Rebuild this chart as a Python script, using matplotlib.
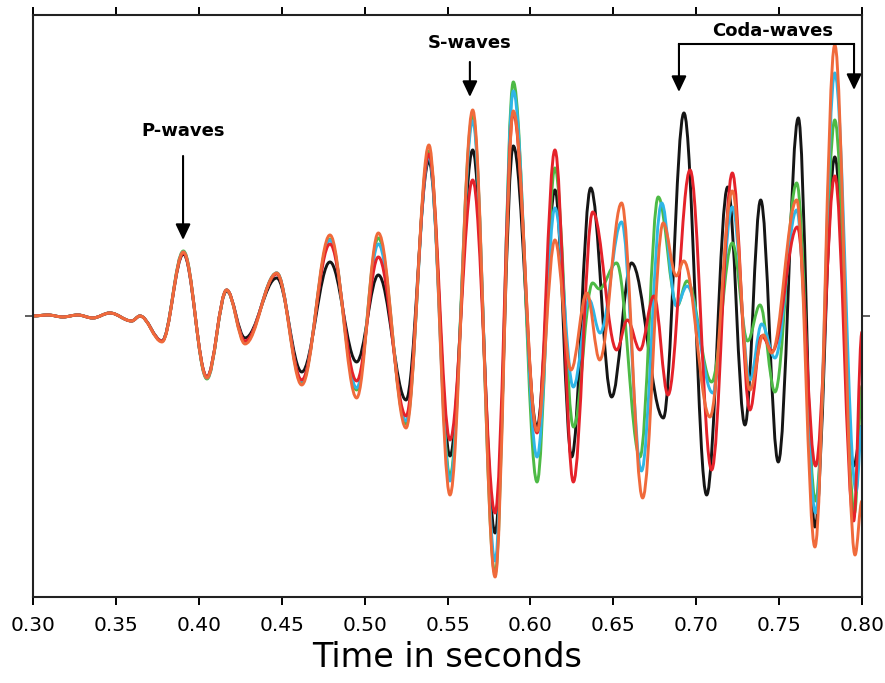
import matplotlib
matplotlib.use("Agg")
import matplotlib.pyplot as plt
from matplotlib.path import Path
from matplotlib.patches import PathPatch

# ---------------- data (extrema of each trace: time [s], amplitude [arb.]) ----------------
t_noise = [0.300, 0.309, 0.318, 0.327, 0.336, 0.3464, 0.3595, 0.3645]
a_noise = [0, 1, -1, 1, -2, 3, -5, 0]

t_common = [0.3778, 0.3907, 0.4049, 0.4168, 0.4279, 0.4470, 0.4621, 0.4791, 0.4952,
            0.5083, 0.5250, 0.5388, 0.5515, 0.5652, 0.5787, 0.5897, 0.6040, 0.6148]

black_early  = [-25, 62, -61, 25, -22, 38, -56, 54, -46, 41, -84, 155, -140, 166, -217, 170, -111, 126]
red_early    = [-25, 63, -61, 26, -25, 42, -64, 72, -65, 59, -100, 162, -124, 136, -197, 203, -117, 166]
green_early  = [-25, 65, -63, 26, -26, 43, -66, 77, -74, 78, -108, 165, -160, 200, -258, 234, -166, 148]
cyan_early   = [-25, 64, -62, 26, -26, 43, -65, 76, -72, 72, -105, 160, -165, 195, -245, 225, -141, 108]
orange_early = [-26, 64, -62, 26, -28, 43, -69, 81, -82, 83, -112, 171, -179, 206, -261, 205, -115, 76]

black_t_late = [0.6249, 0.6364, 0.6490, 0.6610, 0.6802, 0.6926, 0.7063, 0.7190, 0.7294,
                0.7389, 0.7495, 0.7616, 0.7716, 0.7836, 0.7950, 0.8000]
black_a_late = [-141, 128, -81, 53, -102, 203, -179, 129, -109, 116, -146, 198, -211, 159, -150, -110]

red_t_late = [0.6259, 0.6376, 0.6520, 0.6585, 0.6661, 0.6745, 0.6830, 0.6963, 0.7093, 0.7218,
              0.7324, 0.7395, 0.7460, 0.7610, 0.7720, 0.7836, 0.7950, 0.8000]
red_a_late = [-166, 104, -34, -4, -34, 20, -79, 146, -154, 143, -94, -20, -35, 89, -150, 140, -205, -16]

green_t_late = [0.6260, 0.6375, 0.6415, 0.6520, 0.6661, 0.6771, 0.6885, 0.6945, 0.7093, 0.7218,
                0.7310, 0.7385, 0.7475, 0.7606, 0.7720, 0.7836, 0.7955, 0.8000]
green_a_late = [-111, 33, 27, 53, -141, 119, 10, 35, -66, 73, -25, 11, -76, 133, -185, 196, -197, -70]

cyan_t_late = [0.6259, 0.6355, 0.6420, 0.6550, 0.6670, 0.6792, 0.6880, 0.6945, 0.7100, 0.7218,
               0.7324, 0.7395, 0.7475, 0.7606, 0.7720, 0.7836, 0.7965, 0.8000]
cyan_a_late = [-71, 16, -17, 94, -155, 113, 10, 30, -77, 109, -64, -8, -42, 106, -197, 243, -175, -110]

orange_t_late = [0.6245, 0.6340, 0.6418, 0.6550, 0.6677, 0.6801, 0.6880, 0.6925, 0.7083, 0.7218,
                 0.7324, 0.7405, 0.7455, 0.7606, 0.7716, 0.7836, 0.7958, 0.8000]
orange_a_late = [-54, 23, -44, 113, -182, 93, 40, 55, -101, 125, -74, -19, -37, 116, -231, 271, -239, -185]

x_ticks = [0.30, 0.35, 0.40, 0.45, 0.50, 0.55, 0.60, 0.65, 0.70, 0.75, 0.80]
x_tick_labels = ["0.30", "0.35", "0.40", "0.45", "0.50", "0.55", "0.60", "0.65", "0.70", "0.75", "0.80"]

traces = [
    ("black", "#151515", black_early, black_t_late, black_a_late),
    ("green", "#4dba45", green_early, green_t_late, green_a_late),
    ("cyan", "#2fb6e6", cyan_early, cyan_t_late, cyan_a_late),
    ("red", "#e5222a", red_early, red_t_late, red_a_late),
    ("orange", "#f06a3b", orange_early, orange_t_late, orange_a_late),
]


def smooth_path(ts, amps, k=0.363):
    """Cubic Bezier path through extrema with horizontal tangents."""
    verts = [(ts[0], amps[0])]
    codes = [Path.MOVETO]
    for i in range(1, len(ts)):
        t0, a0 = ts[i - 1], amps[i - 1]
        t1, a1 = ts[i], amps[i]
        dt = t1 - t0
        verts += [(t0 + k * dt, a0), (t1 - k * dt, a1), (t1, a1)]
        codes += [Path.CURVE4] * 3
    return Path(verts, codes)


fig = plt.figure(figsize=(8.85, 6.83), dpi=100)
ax = fig.add_axes([0.0373, 0.1252, 0.9367, 0.8529])

for name, col, early, t_late, a_late in traces:
    ts = t_noise + t_common + t_late
    amps = a_noise + early + a_late
    patch = PathPatch(smooth_path(ts, amps), fill=False, edgecolor=col, lw=2.1,
                      joinstyle="round", capstyle="round")
    ax.add_patch(patch)

ax.set_xlim(0.30, 0.80)
ax.set_ylim(-281.5, 301)

ax.set_xticks(x_ticks)
ax.set_xticklabels(x_tick_labels, fontsize=14.5)
ax.set_yticks([0])
ax.tick_params(axis="x", direction="out", length=5.5, width=1.4, top=True, labeltop=False, pad=8)
ax.tick_params(axis="y", direction="out", length=6, width=1.2, left=True, right=True,
               labelleft=False, labelright=False, color="#444444")
for s in ax.spines.values():
    s.set_linewidth(1.5)
    s.set_color("#222222")

ax.set_xlabel("Time in seconds", fontsize=24, labelpad=4)

arrow_kw = dict(arrowstyle="-|>,head_length=0.95,head_width=0.45", color="black", lw=1.5,
                shrinkA=0, shrinkB=0, mutation_scale=10)

# P-waves
ax.text(0.3905, 185, "P-waves", ha="center", va="center", fontsize=13, fontweight="bold")
ax.annotate("", xy=(0.3905, 76), xytext=(0.3905, 160), arrowprops=arrow_kw)

# S-waves
ax.text(0.5635, 273, "S-waves", ha="center", va="center", fontsize=13, fontweight="bold")
ax.annotate("", xy=(0.5635, 219), xytext=(0.5635, 254), arrowprops=arrow_kw)

# Coda-waves bracket
ax.text(0.7463, 285, "Coda-waves", ha="center", va="center", fontsize=13, fontweight="bold")
ax.plot([0.6896, 0.7952], [272, 272], color="black", lw=1.5, solid_capstyle="projecting")
ax.annotate("", xy=(0.6896, 224), xytext=(0.6896, 272), arrowprops=arrow_kw)
ax.annotate("", xy=(0.7952, 226), xytext=(0.7952, 272), arrowprops=arrow_kw)

fig.savefig("out.png", dpi=100)
